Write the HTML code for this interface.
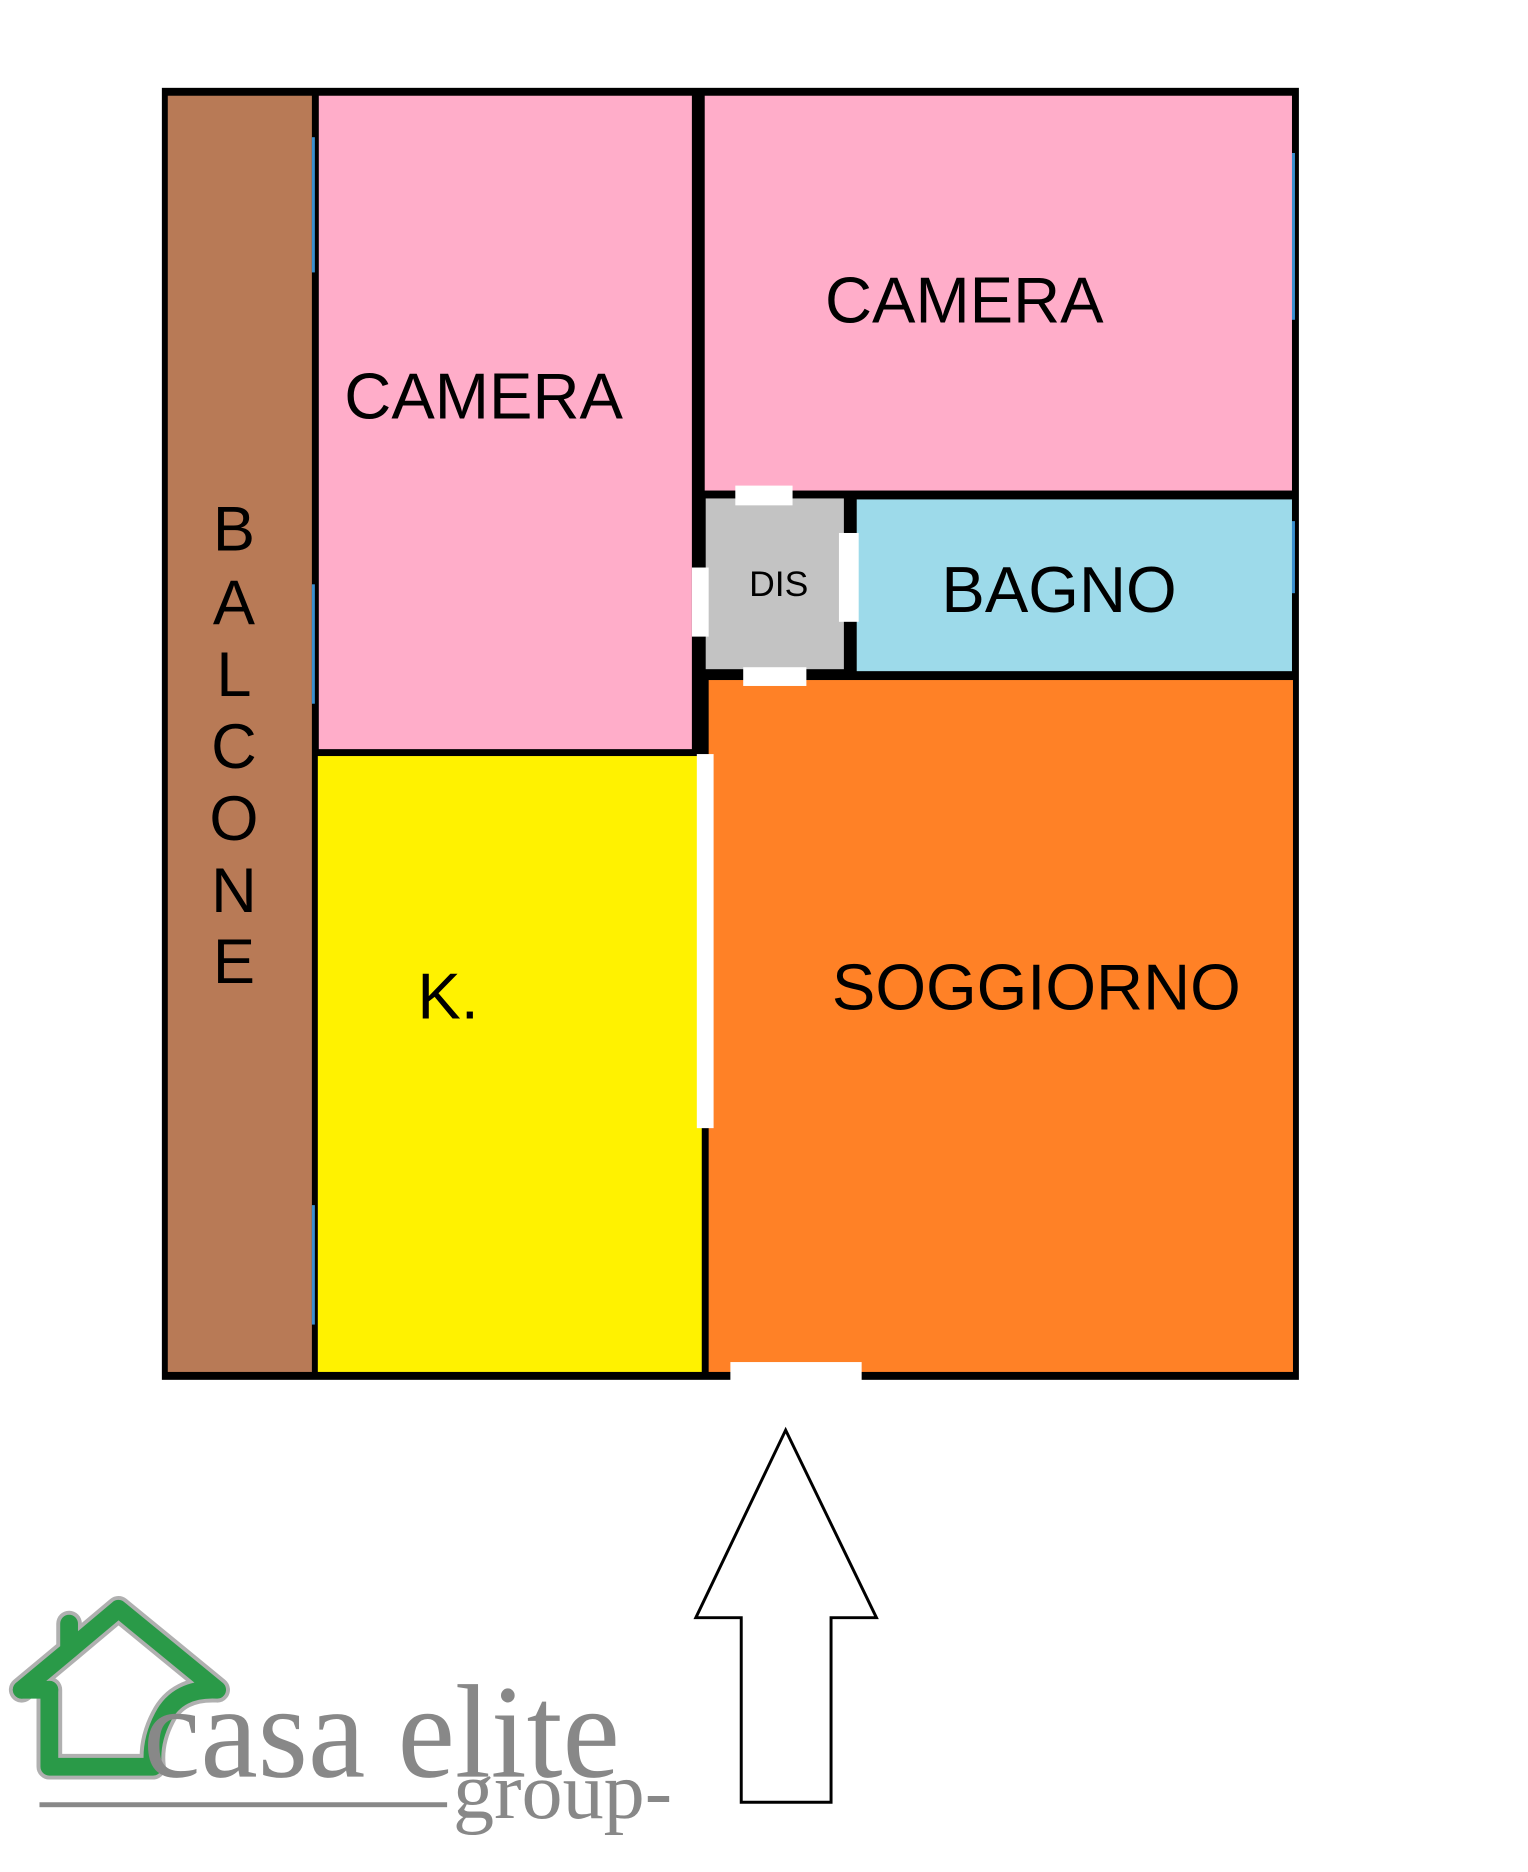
<!DOCTYPE html>
<html><head><style>
html,body{margin:0;padding:0;background:#fff;}
svg{display:block;}
.s{font-family:"Liberation Sans",Arial,sans-serif;fill:#000;}
.r{font-family:"Liberation Serif","Times New Roman",serif;fill:#888;}
</style></head><body>
<svg width="1528" height="1872" viewBox="0 0 1528 1872" xmlns="http://www.w3.org/2000/svg">
<rect width="1528" height="1872" fill="#fff"/>
<g transform="scale(0.987)">
<rect x="164" y="89" width="1152" height="1309" fill="#000"/>
<rect x="170" y="97" width="146" height="1293" fill="#b87a56"/>
<rect x="323" y="97" width="378" height="662" fill="#ffadc9"/>
<rect x="714" y="97" width="595" height="400" fill="#ffadc9"/>
<rect x="715" y="505" width="140" height="173" fill="#c3c3c3"/>
<rect x="868" y="506" width="441" height="174" fill="#9ddaea"/>
<rect x="322" y="766" width="389" height="624" fill="#fff200"/>
<rect x="718" y="689" width="592" height="701" fill="#ff8126"/>
<rect x="745" y="492" width="58" height="20" fill="#fff"/>
<rect x="701" y="575" width="17" height="70" fill="#fff"/>
<rect x="850" y="540" width="20" height="90" fill="#fff"/>
<rect x="753" y="676" width="64" height="19" fill="#fff"/>
<rect x="706" y="764" width="17" height="379" fill="#fff"/>
<rect x="740" y="1380" width="133" height="19" fill="#fff"/>
<rect x="316" y="139" width="3" height="137" fill="#3a8fd0"/>
<rect x="316" y="592" width="3" height="121" fill="#3a8fd0"/>
<rect x="316" y="1221" width="3" height="121" fill="#3a8fd0"/>
<rect x="1309" y="155" width="3" height="169" fill="#3a8fd0"/>
<rect x="1309" y="528" width="3" height="73" fill="#3a8fd0"/>
<text class="s" x="490" y="424" font-size="66" text-anchor="middle">CAMERA</text>
<text class="s" x="977" y="327" font-size="66" text-anchor="middle">CAMERA</text>
<text class="s" x="1073" y="620" font-size="66" text-anchor="middle">BAGNO</text>
<text class="s" x="789" y="604" font-size="36" text-anchor="middle">DIS</text>
<text class="s" x="1050" y="1023" font-size="66" text-anchor="middle">SOGGIORNO</text>
<text class="s" x="454" y="1032" font-size="66" text-anchor="middle">K.</text>
<g font-size="64" text-anchor="middle">
<text class="s" x="237" y="558">B</text>
<text class="s" x="237" y="632">A</text>
<text class="s" x="237" y="705">L</text>
<text class="s" x="237" y="778">C</text>
<text class="s" x="237" y="851">O</text>
<text class="s" x="237" y="924">N</text>
<text class="s" x="237" y="996">E</text>
</g>
<polygon points="796,1449 888,1639 842,1639 842,1826 751,1826 751,1639 705,1639" fill="#fff" stroke="#000" stroke-width="3"/>
<g fill="none" stroke-linejoin="round" stroke-linecap="round">
<path d="M22,1712 L70,1672 L70,1645 M70,1672 L120,1630 L220,1712 Q180,1710 165,1740 Q152,1765 155,1790 L50,1790 L50,1712" stroke="#b0b0b0" stroke-width="26"/>
<path d="M22,1712 L70,1672 L70,1645 M70,1672 L120,1630 L220,1712 Q180,1710 165,1740 Q152,1765 155,1790 L50,1790 L50,1712" stroke="#2a9a48" stroke-width="18"/>
<path d="M22,1712 L50,1712" stroke="#2a9a48" stroke-width="18"/>
</g>
<text class="r" x="145" y="1800" font-size="135" textLength="483" lengthAdjust="spacingAndGlyphs">casa elite</text>
<rect x="40" y="1826" width="413" height="5" fill="#888"/>
<text class="r" x="459" y="1842" font-size="82" textLength="222" lengthAdjust="spacingAndGlyphs">group-</text>
</g>
</svg>
</body></html>
